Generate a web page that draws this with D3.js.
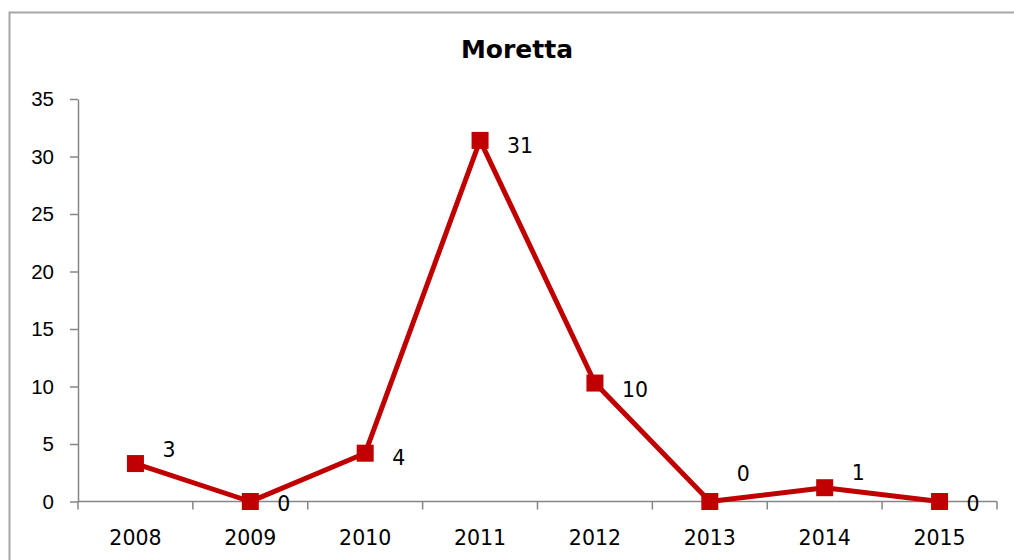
<!DOCTYPE html>
<html>
<head>
<meta charset="utf-8">
<script src="https://cdn.jsdelivr.net/npm/d3@7"></script>
<style>
  body { margin: 0; background: #fff; }
  svg { display: block; font-family: "DejaVu Sans", Verdana, sans-serif; }
</style>
</head>
<body>
<div class="container"></div>
<script>
const years = ["2008", "2009", "2010", "2011", "2012", "2013", "2014", "2015"];
const counts = [3.3, 0, 4.2, 31.4, 10.3, 0, 1.2, 0];
const yTicks = [0, 5, 10, 15, 20, 25, 30, 35];
// vertical nudges of the data labels (Excel placed them by hand)
const labelDy = [-14, 2, 4, 5, 6, -28, -15, 2];

const width = 1014;
const height = 560;
const red = "#c00000";
const axisColor = "#868686";
const fontSize = "20.5px";

const svg = d3.select(".container").append("svg").attr("width", width).attr("height", height);

// chart border (only top and left are in frame)
svg.append("path")
    .attr("d", "M9.5," + height + "V12.5H" + width)
    .attr("fill", "none")
    .attr("stroke", "#a6a6a6")
    .attr("stroke-width", 2);

svg.append("text")
    .attr("x", 517).attr("y", 58)
    .attr("text-anchor", "middle")
    .style("font-size", "25px").style("font-weight", "bold")
    .text("Moretta");

const x = d3.scaleBand().domain(years).range([78, 997]).padding(0);
const y = d3.scaleLinear().domain([0, 35]).range([501.5, 99]);
const cx = d => x(d) + x.bandwidth() / 2;

// y axis
const yAxis = svg.append("g")
    .attr("transform", "translate(78,0)")
    .call(d3.axisLeft(y).tickValues(yTicks).tickSize(8).tickPadding(16).tickSizeOuter(0));
yAxis.select(".domain").attr("stroke", axisColor).attr("stroke-width", 1.5);
yAxis.selectAll(".tick line").attr("stroke", axisColor).attr("stroke-width", 1.5);
yAxis.selectAll(".tick text").attr("fill", "#000").style("font-size", fontSize).attr("font-family", null);

// x axis, ticks sit on category boundaries
const xAxis = svg.append("g").attr("transform", "translate(0," + y(0) + ")");
xAxis.append("line")
    .attr("x1", 78).attr("x2", 997)
    .attr("stroke", axisColor).attr("stroke-width", 1.5);
xAxis.selectAll(".xtick")
    .data(years.concat(["end"]))
    .enter().append("line")
    .attr("class", "xtick")
    .attr("x1", (d, i) => 78 + i * x.bandwidth())
    .attr("x2", (d, i) => 78 + i * x.bandwidth())
    .attr("y1", 0).attr("y2", 8)
    .attr("stroke", axisColor).attr("stroke-width", 1.5);
xAxis.selectAll(".xlabel")
    .data(years)
    .enter().append("text")
    .attr("class", "xlabel")
    .attr("x", d => cx(d))
    .attr("y", 43)
    .attr("text-anchor", "middle")
    .style("font-size", fontSize)
    .text(d => d);

const pts = years.map((yr, i) => ({ year: yr, value: counts[i], dy: labelDy[i] }));

svg.append("path")
    .datum(pts)
    .attr("fill", "none")
    .attr("stroke", red)
    .attr("stroke-width", 5)
    .attr("stroke-linejoin", "round")
    .attr("d", d3.line().x(d => cx(d.year)).y(d => y(d.value)));

const size = 17;
svg.selectAll(".marker")
    .data(pts)
    .enter().append("rect")
    .attr("class", "marker")
    .attr("x", d => cx(d.year) - size / 2)
    .attr("y", d => y(d.value) - size / 2)
    .attr("width", size).attr("height", size)
    .attr("fill", red);

const fmt = d3.format(".0f");
svg.selectAll(".dlabel")
    .data(pts)
    .enter().append("text")
    .attr("class", "dlabel")
    .attr("x", d => cx(d.year) + 27)
    .attr("y", d => y(d.value) + d.dy + 7.5)
    .style("font-size", fontSize)
    .text(d => fmt(d.value));
</script>
</body>
</html>
